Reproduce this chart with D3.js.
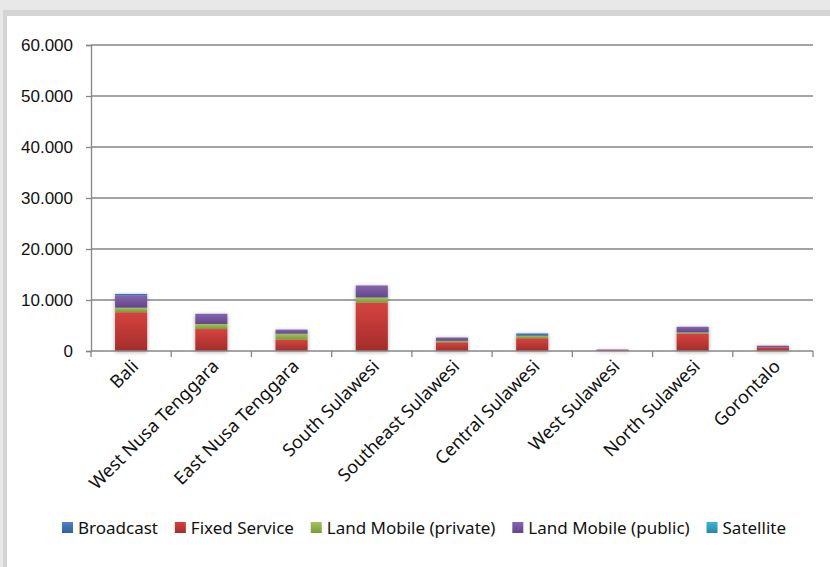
<!DOCTYPE html>
<html>
<head>
<meta charset="utf-8">
<script src="https://cdn.jsdelivr.net/npm/d3@7"></script>
<style>
  html, body { margin: 0; padding: 0; background: #e6e6e6; }
  svg { display: block; font-family: "Noto Sans", "Open Sans", sans-serif; }
</style>
</head>
<body>
<svg id="chart" width="830" height="567"></svg>
<script>
// Frequency assignments per province, by service type
const categories = ["Bali", "West Nusa Tenggara", "East Nusa Tenggara", "South Sulawesi",
  "Southeast Sulawesi", "Central Sulawesi", "West Sulawesi", "North Sulawesi", "Gorontalo"];
const broadcast      = [300,    0,    0,    0,    0,  450,   0,    0,   0];
const fixedService   = [7600, 4300, 2200, 9500, 1700, 2500, 200, 3400, 700];
const landPrivate    = [900,  1000, 1200, 1000,  300,  500,   0,  250,   0];
const landPublic     = [2400, 2000,  800, 2350,  650,    0, 100, 1100, 350];
const satellite      = [0,       0,    0,    0,    0,    0,   0,    0,   0];
const yTicks = [0, 10000, 20000, 30000, 40000, 50000, 60000];
const legendNames = ["Broadcast", "Fixed Service", "Land Mobile (private)", "Land Mobile (public)", "Satellite"];

const seriesDefs = [
  { key: "Broadcast", values: broadcast, top: "#4f81c4", bottom: "#2f5f9f" },
  { key: "Fixed Service", values: fixedService, top: "#d6433f", bottom: "#a32d2a" },
  { key: "Land Mobile (private)", values: landPrivate, top: "#a3c35e", bottom: "#7a9a39" },
  { key: "Land Mobile (public)", values: landPublic, top: "#8466ad", bottom: "#62468a" },
  { key: "Satellite", values: satellite, top: "#3fb1d3", bottom: "#2a88a5" }
];
// bottom-to-top stacking
const stackOrder = ["Fixed Service", "Land Mobile (private)", "Land Mobile (public)", "Broadcast", "Satellite"];

const rows = categories.map((c, i) => {
  const r = { category: c };
  seriesDefs.forEach(s => r[s.key] = s.values[i]);
  return r;
});

const svg = d3.select("#chart");
const W = 830, H = 567;

// panel background
svg.append("rect").attr("x", 0).attr("y", 0).attr("width", W).attr("height", H).attr("fill", "#e8e8e8");
svg.append("rect").attr("x", 3).attr("y", 10).attr("width", W).attr("height", H).attr("fill", "#d4d4d4");
svg.append("rect").attr("x", 7).attr("y", 16).attr("width", W).attr("height", H).attr("fill", "#ffffff");

const defs = svg.append("defs");
seriesDefs.forEach((s, i) => {
  const g = defs.append("linearGradient").attr("id", "grad" + i)
    .attr("x1", 0).attr("y1", 0).attr("x2", 0).attr("y2", 1);
  g.append("stop").attr("offset", "0%").attr("stop-color", s.top);
  g.append("stop").attr("offset", "100%").attr("stop-color", s.bottom);
});
const shadow = defs.append("filter").attr("id", "shadow")
  .attr("x", "-30%").attr("y", "-30%").attr("width", "160%").attr("height", "160%");
shadow.append("feGaussianBlur").attr("in", "SourceAlpha").attr("stdDeviation", 2).attr("result", "b");
shadow.append("feOffset").attr("in", "b").attr("dx", 0).attr("dy", 1).attr("result", "o");
shadow.append("feComponentTransfer").attr("in", "o").attr("result", "s")
  .append("feFuncA").attr("type", "linear").attr("slope", 0.35);
const merge = shadow.append("feMerge");
merge.append("feMergeNode").attr("in", "s");
merge.append("feMergeNode").attr("in", "SourceGraphic");

const margin = { left: 91, right: 17, top: 45, bottom: 216 };
const x = d3.scaleBand().domain(categories).range([margin.left, W - margin.right]).paddingInner(0.6).paddingOuter(0.3);
const xb = d3.scaleBand().domain(categories).range([margin.left, W - margin.right]);
const y = d3.scaleLinear().domain([0, 60000]).range([H - margin.bottom, margin.top]);

const axisColor = "#868686";

// gridlines
svg.append("g").selectAll("line").data(yTicks.filter(t => t > 0)).join("line")
  .attr("x1", margin.left).attr("x2", W - margin.right)
  .attr("y1", d => y(d)).attr("y2", d => y(d))
  .attr("stroke", axisColor).attr("stroke-width", 1.3);

// y axis
const yAxis = svg.append("g").attr("transform", `translate(${margin.left},0)`)
  .call(d3.axisLeft(y).tickValues(yTicks).tickSize(5).tickPadding(13)
    .tickFormat(d => d === 0 ? "0" : d3.format(",")(d).replace(/,/g, ".")));
yAxis.select(".domain").attr("stroke", axisColor).attr("stroke-width", 1.3);
yAxis.selectAll(".tick line").attr("stroke", axisColor).attr("stroke-width", 1.3);
yAxis.selectAll("text").attr("font-size", 17).attr("fill", "#111");

// stacked bars
const stack = d3.stack().keys(stackOrder);
const layers = stack(rows);
const barG = svg.append("g").attr("filter", "url(#shadow)");
layers.forEach(layer => {
  const idx = seriesDefs.findIndex(s => s.key === layer.key);
  barG.append("g").selectAll("rect").data(layer.filter(d => d[1] - d[0] > 0)).join("rect")
    .attr("x", d => x(d.data.category))
    .attr("width", x.bandwidth())
    .attr("y", d => y(d[1]))
    .attr("height", d => y(d[0]) - y(d[1]))
    .attr("fill", `url(#grad${idx})`);
});

// x axis
const xAxisY = y(0);
svg.append("line").attr("x1", margin.left).attr("x2", W - margin.right)
  .attr("y1", xAxisY).attr("y2", xAxisY).attr("stroke", axisColor).attr("stroke-width", 1.3);
const boundaries = categories.map(c => xb(c)).concat([W - margin.right]);
svg.append("g").selectAll("line").data(boundaries).join("line")
  .attr("x1", d => d).attr("x2", d => d)
  .attr("y1", xAxisY).attr("y2", xAxisY + 6)
  .attr("stroke", axisColor).attr("stroke-width", 1.3);

// slanted category labels
svg.append("g").selectAll("text").data(categories).join("text")
  .attr("transform", d => `translate(${xb(d) + xb.bandwidth() / 2 + 4},${xAxisY + 12}) rotate(-45)`)
  .attr("text-anchor", "end")
  .attr("dy", "0.35em")
  .attr("font-size", 18)
  .attr("fill", "#111")
  .text(d => d);

// legend: spread entries evenly between the two outer edges
const legend = svg.append("g");
const legendY = 528, legendLeft = 62, legendRight = 786;
const items = legend.selectAll("g").data(legendNames).join("g");
items.append("rect").attr("width", 11).attr("height", 11).attr("y", legendY - 6)
  .attr("fill", (d, i) => `url(#grad${i})`);
items.append("text").attr("x", 16).attr("y", legendY).attr("dy", "0.35em")
  .attr("font-size", 17).attr("fill", "#111").text(d => d);
const widths = [];
items.each(function () { widths.push(16 + d3.select(this).select("text").node().getComputedTextLength()); });
const gap = (legendRight - legendLeft - d3.sum(widths)) / (widths.length - 1);
let cursor = legendLeft;
const offsets = widths.map(w => { const o = cursor; cursor += w + gap; return o; });
items.attr("transform", (d, i) => `translate(${offsets[i]},0)`);
</script>
</body>
</html>
